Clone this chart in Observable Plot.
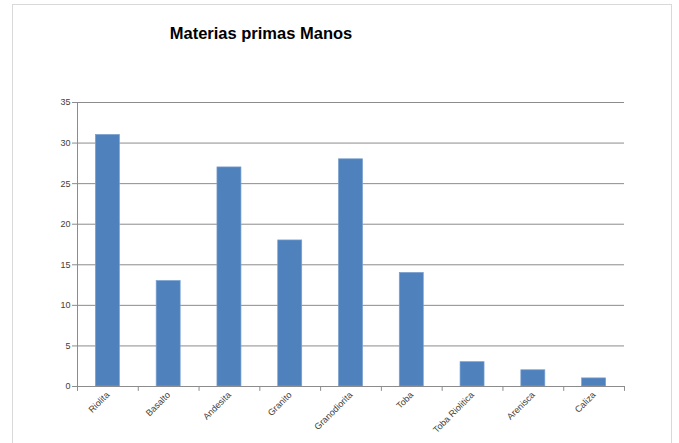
<!DOCTYPE html>
<html>
<head>
<meta charset="utf-8">
<script src="https://cdn.jsdelivr.net/npm/d3@7"></script>
<script src="https://cdn.jsdelivr.net/npm/@observablehq/plot@0.6"></script>
<style>
  html, body { margin: 0; padding: 0; background: #fff; }
  #wrap { position: relative; width: 679px; height: 443px; overflow: hidden; font-family: "Liberation Sans", Arial, sans-serif; }
  #frame { position: absolute; left: 12px; top: 4px; width: 660px; height: 460px; border: 1px solid #d9d9d9; box-sizing: border-box; }
  #title { position: absolute; left: 111px; width: 300px; top: 24px; text-align: center; font-weight: bold; font-size: 16.5px; color: #000; }
  #chart { position: absolute; left: 0; top: 0; }
</style>
</head>
<body>
<div id="wrap">
  <div id="frame"></div>
  <div id="chart"></div>
  <div id="title">Materias primas Manos</div>
</div>
<script>
const categories = ["Riolita", "Basalto", "Andesita", "Granito", "Granodiorita", "Toba", "Toba Riolitica", "Arenisca", "Caliza"];
const values = [31, 13, 27, 18, 28, 14, 3, 2, 1];
const yTicks = [0, 5, 10, 15, 20, 25, 30, 35];

const data = categories.map((c, i) => ({category: c, value: values[i]}));

const W = 679, H = 443;
const mL = 77, mR = 55, mT = 102, mB = 57;
const step = (W - mL - mR) / categories.length;
const pad = 1 - 24 / step;

const plot = Plot.plot({
  width: W,
  height: H,
  marginLeft: mL,
  marginRight: mR,
  marginTop: mT,
  marginBottom: mB,
  style: {background: "transparent", fontFamily: "'Liberation Sans', Arial, sans-serif", fontSize: "9px", color: "#404040"},
  x: {domain: categories, paddingInner: pad, paddingOuter: pad / 2, round: false, label: null},
  y: {domain: [0, 35], label: null},
  marks: [
    Plot.gridY(yTicks, {stroke: "#8c8c8c", strokeOpacity: 1}),
    Plot.barY(data, {x: "category", y: "value", fill: "#4f81bd", stroke: "#7aa0cf", strokeWidth: 0.7}),
    Plot.frame({anchor: "left", stroke: "#8c8c8c"}),
    Plot.frame({anchor: "bottom", stroke: "#8c8c8c"}),
    Plot.axisY(yTicks, {tickSize: 5, tickPadding: 2, stroke: "#8c8c8c", fill: "#404040", fontSize: 9, label: null}),
    Plot.ruleX(categories, {x: d => d, y1: 0, y2: -0.6, dx: -step / 2, stroke: "#8c8c8c", clip: false}),
    Plot.ruleX([categories[categories.length - 1]], {x: d => d, y1: 0, y2: -0.6, dx: step / 2, stroke: "#8c8c8c", clip: false}),
    Plot.axisX({tickSize: 0, tickPadding: 7, tickRotate: -45, fill: "#404040", fontSize: 9, label: null})
  ]
});
document.getElementById("chart").appendChild(plot);
</script>
</body>
</html>
